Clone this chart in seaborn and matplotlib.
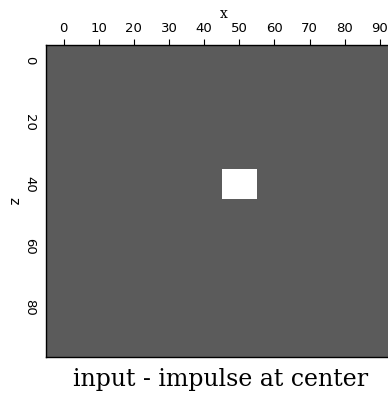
import numpy as np
import pandas as pd
import matplotlib.pyplot as plt
from matplotlib.colors import ListedColormap
import seaborn as sns

# sample axes of the panel (cell start values)
x_values = list(range(-5, 96))
z_values = list(range(-5, 96))

# impulse block: x 45..55, z 35..45, amplitude 1 on a zero background
impulse_x = [45, 55]
impulse_z = [35, 45]
background = 0.0
amplitude = 1.0

x_ticks = [0, 10, 20, 30, 40, 50, 60, 70, 80, 90]
z_ticks = [0, 20, 40, 60, 80]
title = "input - impulse at center"

grid = np.full((len(z_values), len(x_values)), background)
xs = np.array(x_values)
zs = np.array(z_values)
col_mask = (xs >= impulse_x[0]) & (xs < impulse_x[1])
row_mask = (zs >= impulse_z[0]) & (zs < impulse_z[1])
grid[np.ix_(row_mask, col_mask)] = amplitude
df = pd.DataFrame(grid, index=z_values, columns=x_values)

sns.set_style("white")
plt.rcParams["font.family"] = ["DejaVu Sans"]
plt.rcParams["text.color"] = "black"

fig = plt.figure(figsize=(3.88, 3.94), dpi=100)
ax = fig.add_axes([46 / 388, (394 - 357.3) / 394, (401 - 46) / 388, (357.3 - 44.7) / 394])

cmap = ListedColormap(["#5b5b5b", "#ffffff"])
sns.heatmap(df, ax=ax, cmap=cmap, vmin=0, vmax=1, cbar=False,
            xticklabels=False, yticklabels=False)

ax.xaxis.set_ticks_position("top")
ax.xaxis.set_label_position("top")
ax.set_xticks([x_values.index(v) for v in x_ticks])
ax.set_xticklabels([str(v) for v in x_ticks], fontsize=9.5, color="black")
ax.set_yticks([z_values.index(v) for v in z_ticks])
ax.set_yticklabels([str(v) for v in z_ticks], fontsize=9.5, rotation=-90,
                   va="center", color="black")
ax.tick_params(axis="both", direction="out", length=4, width=0.8, color="black", pad=3)
ax.set_xlabel("x", fontsize=10, family=["DejaVu Serif"], labelpad=3, color="black")
ax.set_ylabel("z", fontsize=10, rotation=-90, labelpad=12, color="black")

for s in ax.spines.values():
    s.set_visible(True)
    s.set_color("black")
    s.set_linewidth(1.0)

fig.text(221 / 388, 1 - 386 / 394, title, ha="center", va="baseline",
         fontsize=17, family=["DejaVu Serif"], color="black")

fig.savefig("out.png", dpi=100)
